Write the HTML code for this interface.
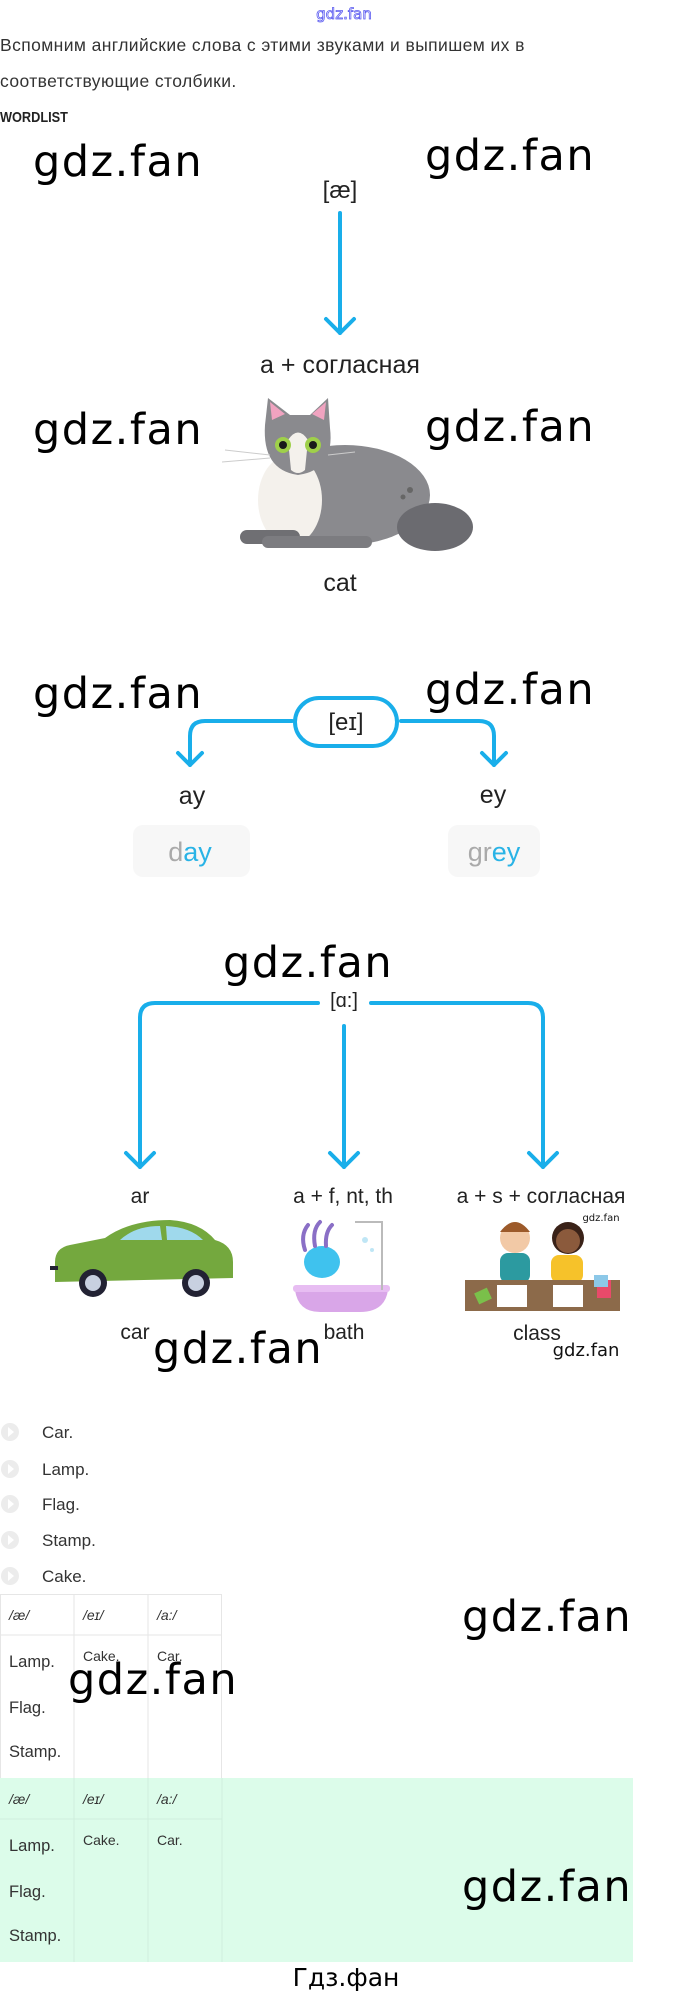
<!DOCTYPE html>
<html><head><meta charset="utf-8"><style>
html,body{margin:0;padding:0;background:#fff;}
body{width:680px;height:1994px;position:relative;overflow:hidden;}
svg{position:absolute;left:0;top:0;}
</style></head><body>
<svg width="680" height="1994" viewBox="0 0 680 1994" xmlns="http://www.w3.org/2000/svg">
<g font-family="Liberation Sans, sans-serif">
<!-- header -->
<text x="344" y="19" text-anchor="middle" font-family="DejaVu Sans, sans-serif" font-size="15" fill="none" stroke="#5b5bf0" stroke-width="0.8">gdz.fan</text>
<text x="0" y="51" font-size="17.5" letter-spacing="0.4" fill="#333">Вспомним английские слова с этими звуками и выпишем их в</text>
<text x="0" y="87" font-size="17.5" letter-spacing="0.4" fill="#333">соответствующие столбики.</text>
<text x="0" y="122" font-size="15" font-weight="bold" fill="#222" transform="scale(0.85,1)">WORDLIST</text>

<!-- watermarks -->
<g font-family="DejaVu Sans, sans-serif" font-size="43" letter-spacing="1.5" fill="#000">
<text x="33" y="176">gdz.fan</text>
<text x="425" y="170">gdz.fan</text>
<text x="33" y="444">gdz.fan</text>
<text x="425" y="441">gdz.fan</text>
<text x="33" y="708">gdz.fan</text>
<text x="425" y="704">gdz.fan</text>
<text x="223" y="977">gdz.fan</text>
<text x="153" y="1363">gdz.fan</text>
<text x="462" y="1631">gdz.fan</text>
</g>

<!-- section 1 -->
<text x="340" y="198" text-anchor="middle" font-size="24" fill="#222">[æ]</text>
<g stroke="#19aeea" stroke-width="4" fill="none" stroke-linecap="round" stroke-linejoin="round">
<path d="M340 213 V333"/><path d="M326 319 L340 333 L354 319"/>
<rect x="295" y="698" width="102" height="48" rx="24" fill="#fff"/>
<path d="M292 721 H205 Q190 721 190 736 V765"/><path d="M178 753 L190 765 L202 753"/>
<path d="M401 721 H479 Q494 721 494 736 V765"/><path d="M482 753 L494 765 L506 753"/>
<path d="M318 1003 H155 Q140 1003 140 1018 V1167"/><path d="M126 1153 L140 1167 L154 1153"/>
<path d="M371 1003 H528 Q543 1003 543 1018 V1167"/><path d="M529 1153 L543 1167 L557 1153"/>
<path d="M344 1026 V1167"/><path d="M330 1153 L344 1167 L358 1153"/>
</g>
<text x="340" y="373" text-anchor="middle" font-size="25" fill="#222">a + согласная</text>

<!-- cat -->
<g>
<ellipse cx="345" cy="495" rx="85" ry="50" fill="#8a8a8e"/>
<ellipse cx="435" cy="527" rx="38" ry="24" fill="#6b6b70"/>
<ellipse cx="290" cy="500" rx="32" ry="45" fill="#f4f1ec"/>
<rect x="240" y="530" width="60" height="14" rx="7" fill="#6f6f73"/>
<rect x="262" y="536" width="110" height="12" rx="6" fill="#7c7c80"/>
<path d="M265 425 L268 398 L290 415 L310 415 L328 398 L330 428 Q335 470 298 475 Q262 470 265 425Z" fill="#8a8a8e"/>
<path d="M270 402 L285 414 L272 420Z" fill="#f0a3c0"/>
<path d="M326 402 L312 414 L324 420Z" fill="#f0a3c0"/>
<path d="M288 440 Q298 425 308 440 L305 470 Q298 476 291 470Z" fill="#f4f1ec"/>
<circle cx="283" cy="445" r="8" fill="#9fd04a"/><circle cx="283" cy="445" r="4" fill="#1a1a1a"/>
<circle cx="313" cy="445" r="8" fill="#9fd04a"/><circle cx="313" cy="445" r="4" fill="#1a1a1a"/>
<g stroke="#ccc" stroke-width="1"><path d="M270 455 L225 450"/><path d="M270 458 L222 462"/><path d="M328 455 L355 452"/></g>
<circle cx="410" cy="490" r="3" fill="#666"/><circle cx="403" cy="497" r="2.5" fill="#666"/>
</g>
<text x="340" y="591" text-anchor="middle" font-size="25" fill="#222">cat</text>

<!-- section 2 -->
<text x="346" y="730" text-anchor="middle" font-size="24" fill="#222">[eɪ]</text>
<text x="192" y="804" text-anchor="middle" font-size="25" fill="#222">ay</text>
<text x="493" y="803" text-anchor="middle" font-size="25" fill="#222">ey</text>
<rect x="133" y="825" width="117" height="52" rx="10" fill="#f7f7f7"/>
<rect x="448" y="825" width="92" height="52" rx="10" fill="#f7f7f7"/>
<text x="190" y="861" text-anchor="middle" font-size="27"><tspan fill="#aaa">d</tspan><tspan fill="#29b3e6">ay</tspan></text>
<text x="494" y="861" text-anchor="middle" font-size="27"><tspan fill="#aaa">gr</tspan><tspan fill="#29b3e6">ey</tspan></text>

<!-- section 3 -->
<text x="344" y="1007" text-anchor="middle" font-size="20" fill="#222">[ɑ:]</text>
<text x="140" y="1203" text-anchor="middle" font-size="21" fill="#222">ar</text>
<text x="343" y="1203" text-anchor="middle" font-size="21" fill="#222">a + f, nt, th</text>
<text x="541" y="1203" text-anchor="middle" font-size="21" fill="#222">a + s + согласная</text>

<!-- car -->
<g>
<path d="M55 1262 Q55 1248 70 1245 L105 1238 Q130 1220 170 1220 Q200 1222 215 1240 Q233 1245 233 1262 L233 1278 L55 1282Z" fill="#74a83e"/>
<path d="M120 1240 Q135 1226 160 1226 L162 1240Z" fill="#9fd9ec"/>
<path d="M166 1226 Q190 1227 203 1240 L167 1240Z" fill="#9fd9ec"/>
<rect x="50" y="1266" width="8" height="4" fill="#223"/>
<circle cx="93" cy="1283" r="14" fill="#223"/><circle cx="93" cy="1283" r="8" fill="#c8d0e0"/>
<circle cx="196" cy="1283" r="14" fill="#223"/><circle cx="196" cy="1283" r="8" fill="#c8d0e0"/>
</g>
<!-- bath -->
<g>
<path d="M295 1290 H388 Q385 1312 360 1312 H320 Q298 1312 295 1290Z" fill="#d9a6e8"/>
<rect x="293" y="1285" width="97" height="7" rx="3" fill="#e7bdf2"/>
<ellipse cx="322" cy="1262" rx="18" ry="16" fill="#3fc2ee"/>
<g stroke="#8a6fc6" stroke-width="4" fill="none" stroke-linecap="round"><path d="M305 1250 Q300 1235 308 1225"/><path d="M315 1246 Q312 1230 320 1222"/><path d="M326 1246 Q325 1232 332 1225"/></g>
<path d="M355 1222 H382 V1290" stroke="#bbb" stroke-width="2" fill="none"/>
<circle cx="365" cy="1240" r="3" fill="#bfe6f5"/><circle cx="372" cy="1250" r="2" fill="#bfe6f5"/>
</g>
<!-- class -->
<g>
<circle cx="515" cy="1238" r="15" fill="#f2c9a6"/>
<path d="M500 1232 Q515 1212 530 1232Z" fill="#9c5a2a"/>
<rect x="500" y="1253" width="30" height="30" rx="8" fill="#2c9aa0"/>
<circle cx="568" cy="1238" r="16" fill="#3a2218"/>
<circle cx="568" cy="1241" r="12" fill="#8b5a3c"/>
<rect x="551" y="1255" width="32" height="28" rx="8" fill="#f6c22a"/>
<rect x="465" y="1280" width="155" height="31" fill="#8c6a4a"/>
<rect x="497" y="1285" width="30" height="22" fill="#fff"/>
<rect x="553" y="1285" width="30" height="22" fill="#fff"/>
<rect x="476" y="1290" width="14" height="12" fill="#7ac04a" transform="rotate(-25 483 1296)"/>
<rect x="597" y="1280" width="14" height="18" fill="#e84a6a"/>
<rect x="594" y="1275" width="14" height="12" fill="#8cc8e8"/>
</g>
<text x="601" y="1221" text-anchor="middle" font-family="DejaVu Sans, sans-serif" font-size="10" fill="#111">gdz.fan</text>

<text x="135" y="1339" text-anchor="middle" font-size="21" fill="#222">car</text>
<text x="344" y="1339" text-anchor="middle" font-size="21" fill="#222">bath</text>
<text x="537" y="1340" text-anchor="middle" font-size="21" fill="#222">class</text>
<text x="586" y="1356" text-anchor="middle" font-family="DejaVu Sans, sans-serif" font-size="18" fill="#111">gdz.fan</text>

<!-- list -->
<g fill="#ececec">
<circle cx="10" cy="1432" r="9"/><circle cx="10" cy="1469" r="9"/><circle cx="10" cy="1504" r="9"/><circle cx="10" cy="1540" r="9"/><circle cx="10" cy="1576" r="9"/>
</g>
<g fill="#fff"><path d="M8 1427 L14 1432 L8 1437Z"/><path d="M8 1464 L14 1469 L8 1474Z"/><path d="M8 1499 L14 1504 L8 1509Z"/><path d="M8 1535 L14 1540 L8 1545Z"/><path d="M8 1571 L14 1576 L8 1581Z"/></g>
<g font-size="17" fill="#333">
<text x="42" y="1438">Car.</text><text x="42" y="1475">Lamp.</text><text x="42" y="1510">Flag.</text><text x="42" y="1546">Stamp.</text><text x="42" y="1582">Cake.</text>
</g>

<!-- table 1 -->
<g stroke="#e6e6e6" stroke-width="1" fill="none">
<rect x="0.5" y="1594.5" width="221" height="184"/>
<path d="M74 1594 V1778 M148 1594 V1778 M0 1635 H222"/>
</g>
<g font-size="14" fill="#333">
<text x="9" y="1620" font-style="italic">/æ/</text><text x="83" y="1620" font-style="italic">/eɪ/</text><text x="157" y="1620" font-style="italic">/a:/</text>
<text x="83" y="1661">Cake.</text><text x="157" y="1661">Car.</text>
</g>
<g font-size="16.5" fill="#333">
<text x="9" y="1667">Lamp.</text><text x="9" y="1713">Flag.</text><text x="9" y="1757">Stamp.</text>
</g>
<text x="68" y="1694" font-family="DejaVu Sans, sans-serif" font-size="43" letter-spacing="1.5" fill="#000">gdz.fan</text>

<!-- green table -->
<rect x="0" y="1778" width="633" height="184" fill="#dcfcea"/>
<g stroke="#cfeedd" stroke-width="1" fill="none">
<path d="M74 1778 V1962 M148 1778 V1962 M222 1778 V1962 M0 1819 H222"/>
</g>
<g font-size="14" fill="#333">
<text x="9" y="1804" font-style="italic">/æ/</text><text x="83" y="1804" font-style="italic">/eɪ/</text><text x="157" y="1804" font-style="italic">/a:/</text>
<text x="83" y="1845">Cake.</text><text x="157" y="1845">Car.</text>
</g>
<g font-size="16.5" fill="#333">
<text x="9" y="1851">Lamp.</text><text x="9" y="1897">Flag.</text><text x="9" y="1941">Stamp.</text>
</g>
<text x="462" y="1901" font-family="DejaVu Sans, sans-serif" font-size="43" letter-spacing="1.5" fill="#000">gdz.fan</text>
<text x="346" y="1986" text-anchor="middle" font-family="DejaVu Sans, sans-serif" font-size="25" fill="#000">Гдз.фан</text>
</g>
</svg>
</body></html>
